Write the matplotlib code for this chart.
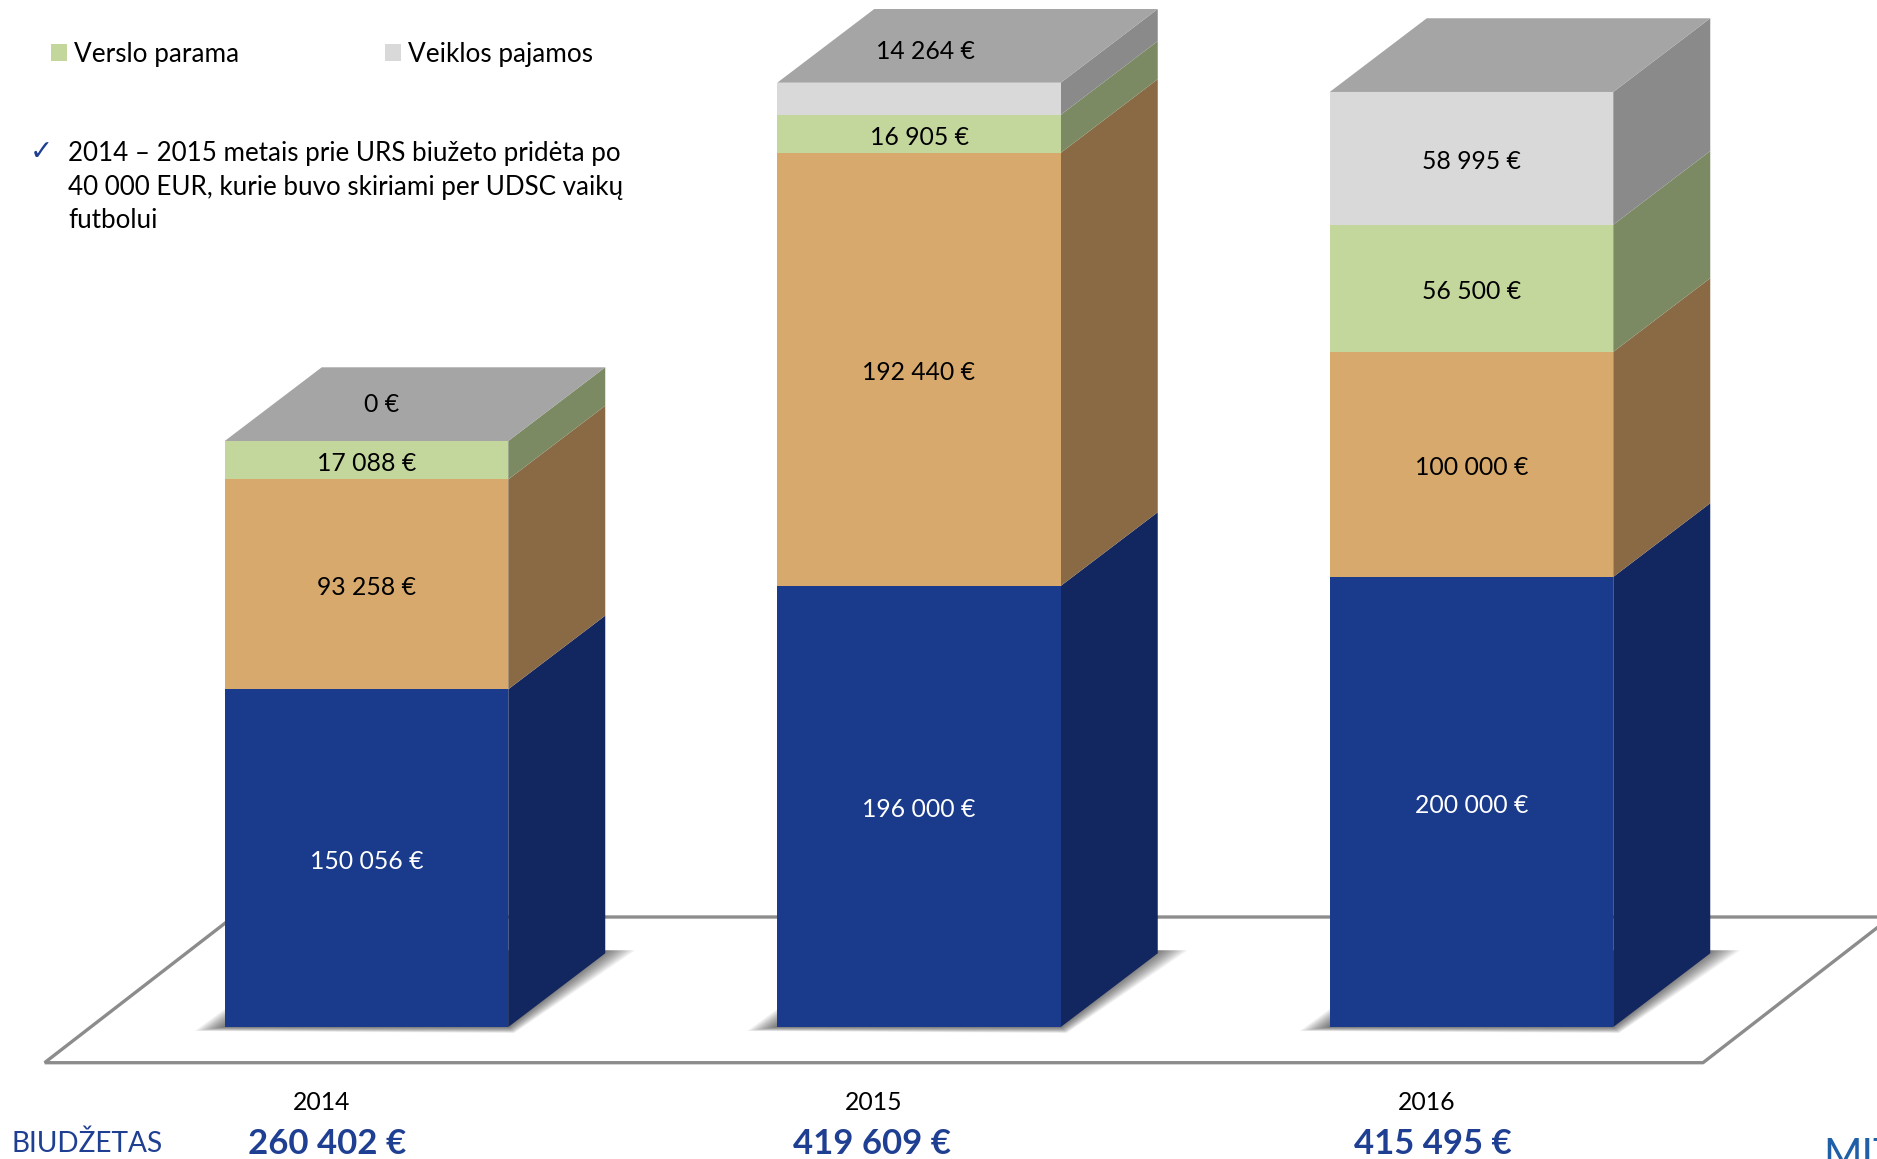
import matplotlib
matplotlib.use("Agg")
import matplotlib.pyplot as plt
from matplotlib.patches import Patch, Polygon

years = ["2014", "2015", "2016"]
totals = ["260 402 €", "419 609 €", "415 495 €"]
blue_values = [150056, 196000, 200000]
orange_values = [93258, 192440, 100000]
verslo_parama = [17088, 16905, 56500]
veiklos_pajamos = [0, 14264, 58995]
series = [blue_values, orange_values, verslo_parama, veiklos_pajamos]
legend_names = ["Verslo parama", "Veiklos pajamos"]
note_lines = ["2014 – 2015 metais prie URS biužeto pridėta po",
              "40 000 EUR, kurie buvo skiriami per UDSC vaikų",
              "futbolui"]

front = ["#1A3A8C", "#D7A96C", "#C3D69B", "#D9D9D9"]
side = ["#12265F", "#8A6A45", "#7B8A63", "#8A8A8A"]
top_col = "#A5A5A5"
txt_col = ["white", "black", "black", "black"]
navy = "#1F3F92"
LBL = 17.8

W, H = 1877, 1159
plt.rcParams["font.family"] = ["Lato", "DejaVu Sans"]
fig = plt.figure(figsize=(W / 100, H / 100), dpi=100)
ax = fig.add_axes([0, 0, 1, 1])
PX_PER_CAT = 552.5
PX_PER_EUR = 0.0022504
X0, Y0 = 366.5, 1027.0
ax.set_xlim(-X0 / PX_PER_CAT, (W - X0) / PX_PER_CAT)
ax.set_ylim(-(H - Y0) / PX_PER_EUR, Y0 / PX_PER_EUR)
ax.axis("off")

dxp = lambda p: p / PX_PER_CAT
dyp = lambda p: p / PX_PER_EUR
BW = dxp(283.5)
DX, DY = dxp(97), dyp(73.7)

# floor outline
fl = [(dxp(44.6 - X0), dyp(-35.7)), (dxp(1703 - X0), dyp(-35.7)),
      (dxp(1891 - X0), dyp(110)), (dxp(233 - X0), dyp(110))]
ax.add_patch(Polygon(fl, closed=True, fill=False, ec="#8C8C8C", lw=2.4, zorder=1, joinstyle="round"))

# soft shadows on the floor
N = 14
for i in range(len(years)):
    l, r = i - BW / 2, i + BW / 2
    for k in range(N):
        t = k / (N - 1)
        poly = [(l - dxp(30 * (1 - t)), dyp(-4 * (1 - t))),
                (r + dxp(6 * (1 - t)), dyp(-6 * (1 - t))),
                (r + DX + dxp(30 * (1 - t)), DY + dyp(3)),
                (l + DX, DY + dyp(3)),
                (l, dyp(18 * (1 - t)))]
        ax.add_patch(Polygon(poly, closed=True, fc="#000000", ec="none", alpha=0.05, zorder=2))

# stacked boxes
bottom = [0, 0, 0]
for s, vals in enumerate(series):
    ax.bar(range(len(years)), vals, BW, bottom=bottom, color=front[s], zorder=4, linewidth=0)
    for i, v in enumerate(vals):
        r = i + BW / 2
        b = bottom[i]
        if v > 0:
            ax.fill([r, r + DX, r + DX, r], [b, b + DY, b + v + DY, b + v],
                    color=side[s], lw=0, zorder=3)
            if s < 3 or i == 2:
                ax.text(i, b + v / 2 - dyp(3.5), f"{v:,}".replace(",", " ") + " €", color=txt_col[s],
                        ha="center", va="center", fontsize=LBL, zorder=6)
        bottom[i] = b + v

# top faces
for i, t in enumerate(bottom):
    l, r = i - BW / 2, i + BW / 2
    ax.fill([l, r, r + DX, l + DX], [t, t, t + DY, t + DY], color=top_col, lw=0, zorder=5)

# labels lying on the top faces
ax.text(dxp(382 - X0), bottom[0] + dyp(36), f"{veiklos_pajamos[0]} €", ha="center", va="center",
        fontsize=LBL, zorder=6)
ax.text(1 + dxp(6), bottom[1] + dyp(31), "14 264 €", ha="center", va="center", fontsize=LBL, zorder=6)

# year and total labels
for i in range(3):
    ax.text(i - dxp(45), dyp(-75), years[i], ha="center", va="center", fontsize=LBL)
tot_off = [-39, -47, -39]
for i in range(3):
    ax.text(i + dxp(tot_off[i]), dyp(-117), totals[i], ha="center", va="center",
            fontsize=25, fontweight="bold", color=navy)

fig.text(12 / W, 1 - 1144 / H, "BIUDŽETAS", ha="left", va="center", fontsize=20.2, color=navy)
fig.text(1823 / W, 1 - 1157 / H, "MIT", ha="left", va="center", fontsize=30, color="#1F5FA8")

# legend
handles = [Patch(fc=front[2], ec="none"), Patch(fc=front[3], ec="none")]
fig.legend(handles, legend_names, ncol=2, loc="upper left", bbox_to_anchor=(51 / W, 1 - 42 / H),
           bbox_transform=fig.transFigure, frameon=False, fontsize=18.8, borderpad=0, borderaxespad=0,
           handlelength=0.62, handleheight=0.62, handletextpad=0.27, columnspacing=5.57)

# note
fig.text(30 / W, 1 - 152 / H, "✓", ha="left", va="center", fontsize=20, color=navy,
         family=["DejaVu Sans"])
for j, line in enumerate(note_lines):
    fig.text(68 / W, 1 - (154 + j * 33.5) / H, line, ha="left", va="center", fontsize=18.75, color="black")

fig.savefig("out.png", dpi=100)
